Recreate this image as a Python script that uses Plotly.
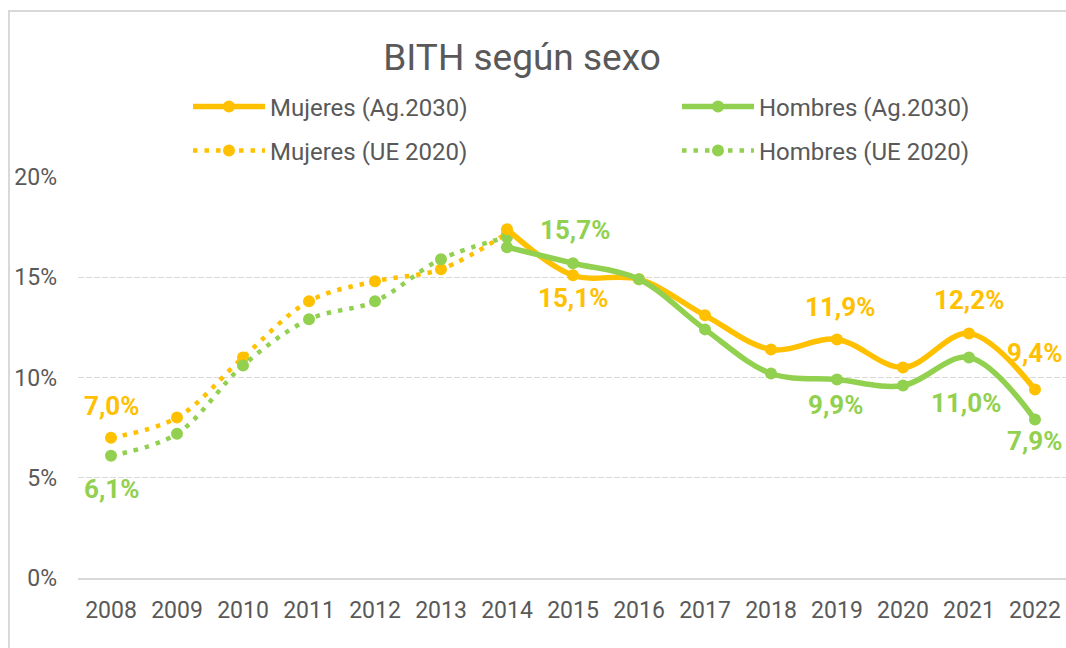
import plotly.graph_objects as go

# ---- data ----
years_ue = [2008, 2009, 2010, 2011, 2012, 2013, 2014]
mujeres_ue2020 = [7.0, 8.0, 11.0, 13.8, 14.8, 15.4, 17.2]
hombres_ue2020 = [6.1, 7.2, 10.6, 12.9, 13.8, 15.9, 17.0]

years_ag = [2014, 2015, 2016, 2017, 2018, 2019, 2020, 2021, 2022]
mujeres_ag2030 = [17.4, 15.1, 14.9, 13.1, 11.4, 11.9, 10.5, 12.2, 9.4]
hombres_ag2030 = [16.5, 15.7, 14.9, 12.4, 10.2, 9.9, 9.6, 11.0, 7.9]

x_ticks = list(range(2008, 2023))
y_ticks = [0, 5, 10, 15, 20]

# labelled points (year)
lab_mujeres_ue = [2008]
lab_hombres_ue = [2008]
lab_mujeres_ag = [2015, 2019, 2021, 2022]
lab_hombres_ag = [2015, 2019, 2021, 2022]

# ---- style ----
ORANGE = "#FFC000"
GREEN = "#92D050"
GREY = "#595959"
FONT = "Roboto"

L, T, B = 78, 177, 70
W, H = 1066, 648
pw, ph = W - L, H - T - B


def px_x(p):
    return (p - L) / pw


def px_y(p):
    return (H - B - p) / ph


fig = go.Figure()


def add_line(x, y, name, color, dotted, legend):
    fig.add_trace(go.Scatter(
        x=x, y=y, name=name, mode="lines+markers",
        line=dict(color=color, width=4.5 if dotted else 5.5, shape="spline", smoothing=1,
                  dash="4.5px,7px" if dotted else "solid"),
        marker=dict(color=color, size=12),
        legend=legend, showlegend=True,
    ))


add_line(years_ue, mujeres_ue2020, "Mujeres (UE 2020)", ORANGE, True, "legend3")
add_line(years_ue, hombres_ue2020, "Hombres (UE 2020)", GREEN, True, "legend4")
add_line(years_ag, mujeres_ag2030, "Mujeres (Ag.2030)", ORANGE, False, "legend")
add_line(years_ag, hombres_ag2030, "Hombres (Ag.2030)", GREEN, False, "legend2")


def fmt(v):
    return f"{v:.1f}".replace(".", ",") + "%"


shifts = {
    ("mu", 2008): (0, 32), ("ho", 2008): (0, -33),
    ("mu", 2015): (0, -23), ("ho", 2015): (2, 33),
    ("mu", 2019): (3, 32), ("ho", 2019): (-1, -25),
    ("mu", 2021): (0, 33), ("ho", 2021): (-3, -46),
    ("mu", 2022): (0, 37), ("ho", 2022): (0, -21),
}


def add_labels(key, xs, ys, which, color):
    for yr in which:
        v = ys[xs.index(yr)]
        dx, dy = shifts[(key, yr)]
        fig.add_annotation(x=yr, y=v, text=fmt(v), showarrow=False,
                           xshift=dx, yshift=dy,
                           font=dict(family=FONT, size=26, color=color, weight="bold"))


add_labels("mu", years_ue, mujeres_ue2020, lab_mujeres_ue, ORANGE)
add_labels("ho", years_ue, hombres_ue2020, lab_hombres_ue, GREEN)
add_labels("mu", years_ag, mujeres_ag2030, lab_mujeres_ag, ORANGE)
add_labels("ho", years_ag, hombres_ag2030, lab_hombres_ag, GREEN)

fig.add_shape(type="rect", xref="paper", yref="paper",
              x0=px_x(9), x1=px_x(1075), y0=px_y(660), y1=px_y(11),
              line=dict(color="#D9D9D9", width=2), layer="below")

legend_common = dict(orientation="v", font=dict(family=FONT, size=24, color=GREY),
                     xanchor="left", yanchor="middle", bgcolor="rgba(0,0,0,0)",
                     itemwidth=72)

fig.update_layout(
    width=W, height=H,
    showlegend=True,
    margin=dict(l=L, r=0, t=T, b=B),
    paper_bgcolor="white", plot_bgcolor="white",
    font=dict(family=FONT, color=GREY),
    title=dict(text="BITH según sexo", x=522 / W, xanchor="center", y=1 - 57 / H,
               yanchor="middle", font=dict(family=FONT, size=37, color=GREY)),
    legend=dict(x=px_x(188), y=px_y(107), **legend_common),
    legend2=dict(x=px_x(677), y=px_y(107), **legend_common),
    legend3=dict(x=px_x(188), y=px_y(151), **legend_common),
    legend4=dict(x=px_x(677), y=px_y(151), **legend_common),
    xaxis=dict(range=[2007.5, 2022.47], tickvals=x_ticks, ticktext=[str(v) for v in x_ticks],
               showgrid=False, showline=True, linecolor="#D9D9D9", linewidth=2,
               ticks="", tickfont=dict(family=FONT, size=23, color=GREY),
               ticklabelstandoff=10, zeroline=False),
    yaxis=dict(range=[0, 20], tickvals=y_ticks, ticktext=[f"{v}%" for v in y_ticks],
               showgrid=True, gridcolor="#D9D9D9", gridwidth=1.3, griddash="6px,2px",
               zeroline=False, showline=False, ticks="",
               tickfont=dict(family=FONT, size=23, color=GREY), ticklabelstandoff=20),
)

fig.write_html("out.html", config={"displayModeBar": False},
               post_script="document.body.style.margin='0';document.body.style.overflow='hidden';")
